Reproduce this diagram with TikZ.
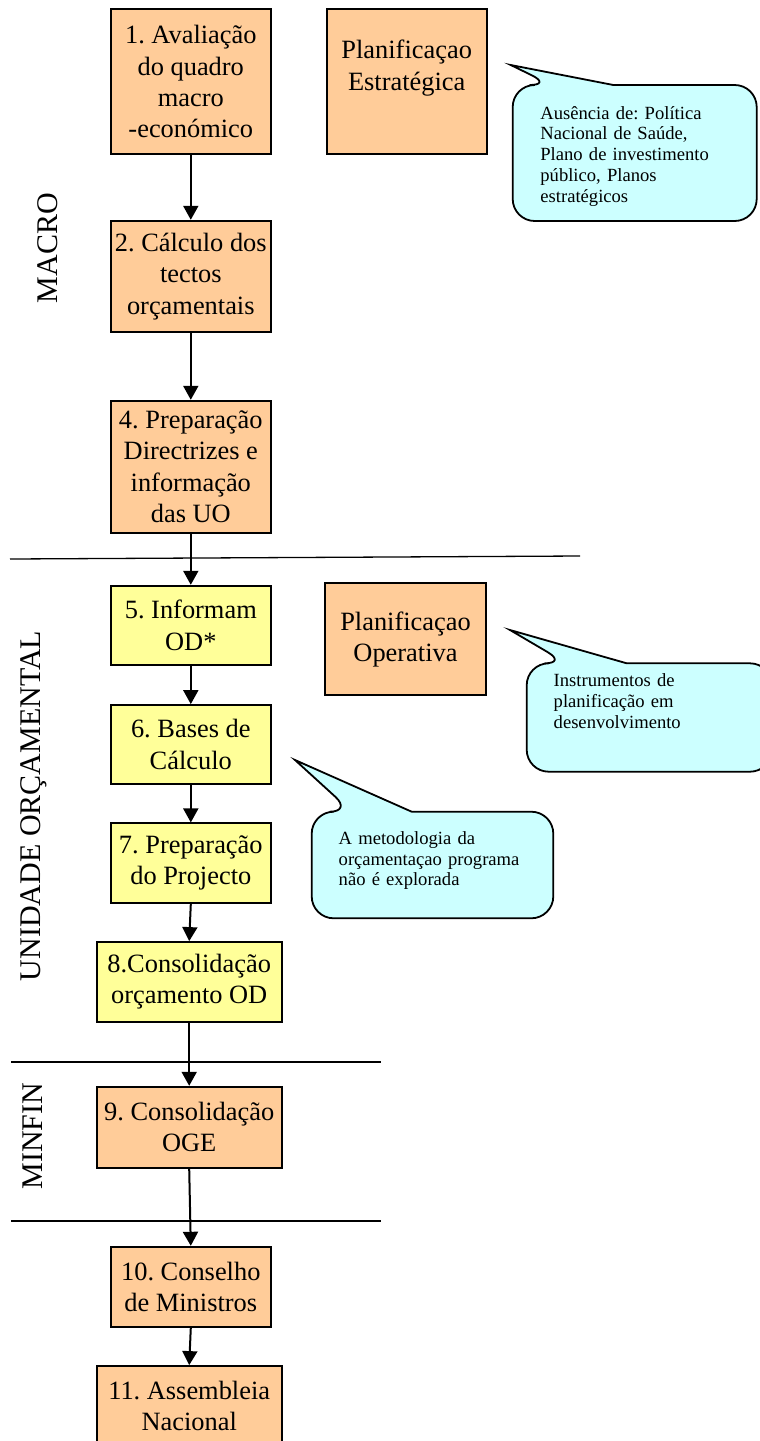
\documentclass[tikz,border=0pt]{standalone}
\usepackage{fontspec}
\setmainfont{Liberation Serif}
\frenchspacing
\usetikzlibrary{arrows.meta}
\definecolor{cOrange}{RGB}{255,204,153}
\definecolor{cYellow}{RGB}{255,255,153}
\definecolor{cBubble}{RGB}{204,255,255}
\definecolor{cEdge}{RGB}{0,0,0}

\begin{document}
\begin{tikzpicture}[
  x=0.5pt,y=-0.5pt, color=cEdge,
  box/.style    ={draw=cEdge, line width=0.9pt, align=center, inner sep=0pt,
                  minimum width=80pt, font=\fontsize{13.2}{15.6}\selectfont},
  obox/.style   ={box, fill=cOrange},
  ybox/.style   ={box, fill=cYellow},
  wide/.style   ={minimum width=92.5pt},
  flow/.style   ={-{Triangle[length=7pt,width=7.5pt]}, line width=1pt},
  phase/.style  ={rotate=90, inner sep=0pt, font=\fontsize{15}{18}\selectfont},
  sep/.style    ={draw=cEdge, line width=0.65pt},
  bubble/.style ={draw=cEdge, line width=0.9pt, fill=cBubble},
  note/.style   ={anchor=base west, inner sep=0pt, align=left, text width=130pt,
                  font=\fontsize{9.3}{10.4}\selectfont},
]
\useasboundingbox (0,0) rectangle (760,1441);

% ----- phase separators -------------------------------------------------
\draw[sep] (10,559) -- (580,556);
\draw[sep] (11,1062) -- (381,1062);
\draw[sep] (11,1221) -- (381,1221);

% ----- phase labels ------------------------------------------------------
\node[phase] (macro) at (48,248)   {MACRO};
\node[phase] (unid)  at (34,806)   {UNIDADE ORÇAMENTAL};
\node[phase] (minfin) at (33,1136) {MINFIN};

% ----- process steps -----------------------------------------------------
\node[obox, minimum height=72.35pt] (s1) at (190.8,81.65)
      {1. Avaliação\\do quadro\\macro\\-económico};
\node[obox, minimum height=55.8pt]  (s2) at (190.8,276.5)
      {2. Cálculo dos\\tectos\\orçamentais};
\node[obox, minimum height=66pt]    (s4) at (190.8,466.7)
      {4. Preparação\\Directrizes e\\informação\\das UO};
\node[ybox, minimum height=39.65pt] (s5) at (190.8,625.35) {5. Informam\\OD*};
\node[ybox, minimum height=39.5pt]  (s6) at (190.8,744.5)  {6. Bases de\\Cálculo};
\node[ybox, minimum height=40pt]    (s7) at (190.8,863.3)  {7. Preparação\\do Projecto};
\node[ybox, wide, minimum height=40pt]   (s8) at (189.2,982)
      {8.Consolidação\\orçamento OD};
\node[obox, wide, minimum height=40.5pt] (s9) at (189.2,1127.2)
      {9. Consolidação\\OGE};
\node[obox, minimum height=40pt]    (s10) at (190.8,1286.7) {10. Conselho\\de Ministros};
\node[obox, wide, minimum height=40pt]   (s11) at (189.2,1406)
      {11. Assembleia\\Nacional};

% ----- planning boxes ----------------------------------------------------
\node[obox, minimum height=72.35pt, text depth=16.5pt] (pest) at (406.7,81.65)
      {Planificaçao\\Estratégica};
\node[obox, minimum width=80.5pt, minimum height=55.85pt] (pop) at (405.5,639.15)
      {Planificaçao\\Operativa};

% ----- flow --------------------------------------------------------------
\draw[flow] (s1.south) -- (s2.north);
\draw[flow] (s2.south) -- (s4.north);
\draw[flow] (s4.south) -- (s5.north);
\draw[flow] (s5.south) -- (s6.north);
\draw[flow] (s6.south) -- (s7.north);
\draw[flow] (s7.south) -- (s8.north);
\draw[flow] (s8.south) -- (s9.north);
\draw[flow] (s9.south) -- (s10.north);
\draw[flow] (s10.south) -- (s11.north);

% ----- call-outs ---------------------------------------------------------
\draw[bubble] (613.3,85) [rounded corners=11pt] -- (756.7,85) -- (756.7,221)
      -- (512.7,221) -- (512.7,85) -- (551.7,85) [sharp corners] -- (510.7,65) -- cycle;
\node[note] (nEst) at (540,119)
      {Ausência de: Política\\Nacional de Saúde,\\Plano de investimento\\público, Planos\\estratégicos};

\draw[bubble] (626.7,663.3) [rounded corners=11pt] -- (772,663.3) -- (772,771.7)
      -- (526.7,771.7) -- (526.7,663.3) -- (566.7,663.3) [sharp corners] -- (510,630) -- cycle;
\node[note] (nOp) at (553.3,686.7)
      {Instrumentos de\\planificação em\\desenvolvimento};

\draw[bubble] (411.7,811.7) [rounded corners=11pt] -- (553.3,811.7) -- (553.3,918.3)
      -- (311.7,918.3) -- (311.7,811.7) -- (351.7,811.7) [sharp corners] -- (295,760) -- cycle;
\node[note] (nMet) at (338.3,844.3)
      {A metodologia da\\orçamentaçao programa\\não é explorada};

\end{tikzpicture}
\end{document}
